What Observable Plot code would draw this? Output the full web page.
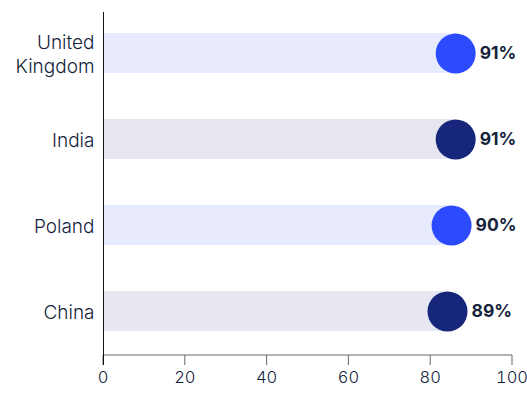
<!DOCTYPE html>
<html>
<head>
<meta charset="utf-8">
<script src="https://cdn.jsdelivr.net/npm/d3@7"></script>
<script src="https://cdn.jsdelivr.net/npm/@observablehq/plot@0.6"></script>
<style>
  html, body { margin: 0; padding: 0; background: #fff; }
  #chart { width: 527px; height: 395px; }
  #chart svg { overflow: visible; }
</style>
</head>
<body>
<div id="chart"></div>
<script>
const countries = ["United Kingdom", "India", "Poland", "China"];
const values = [91, 91, 90, 89];
const labels = ["91%", "91%", "90%", "89%"];
const trackColors = ["#e8ebfd", "#e7e7f1", "#e8ebfd", "#e7e7f1"];
const dotColors = ["#2c4bff", "#16267a", "#2c4bff", "#16267a"];
const xTicks = [0, 20, 40, 60, 80, 100];

const data = countries.map((c, i) => ({
  country: c, value: values[i], label: labels[i], track: trackColors[i], dot: dotColors[i]
}));

const textColor = "#14233c";
const R = 20;

// axis baseline drawn from the x scale
const xAxisLine = (index, scales, values, dims) => {
  const y = dims.height - dims.marginBottom;
  const g = d3.create("svg:line")
    .attr("x1", scales.x(0)).attr("x2", scales.x(100))
    .attr("y1", y).attr("y2", y)
    .attr("stroke", "#666").attr("stroke-width", 1);
  return g.node();
};

const chart = Plot.plot({
  width: 527,
  height: 395,
  marginLeft: 103,
  marginRight: 15,
  marginTop: 8,
  marginBottom: 40,
  style: { fontFamily: "Inter, sans-serif", color: textColor, background: "#fff", overflow: "visible" },
  x: { domain: [0, 100] },
  y: { domain: countries, paddingInner: 0.54, paddingOuter: 0.27 },
  marks: [
    Plot.barX(data, { y: "country", x1: 0, x2: "value", fill: "track", insetRight: R }),
    Plot.dot(data, { y: "country", x: "value", dx: -R, r: R, fill: "dot", stroke: null }),
    Plot.text(data, { y: "country", x: "value", text: "label", dx: 4, textAnchor: "start",
      fontSize: 17.5, fontWeight: "bold", fill: textColor }),
    Plot.axisY({ tickSize: 0, tickPadding: 9, fontSize: 19, fontWeight: 300, fill: textColor,
      tickFormat: d => d === "United Kingdom" ? "United\nKingdom" : d, lineHeight: 1.25, label: null }),
    Plot.axisX({ ticks: xTicks, tickSize: 10, tickPadding: 6, fontSize: 16.5, fontWeight: 300, fill: textColor,
      stroke: "#666", label: null, dx: -0.5 }),
    xAxisLine,
    Plot.ruleX([0], { stroke: "#111", insetTop: 4, insetBottom: -10 })
  ]
});
document.getElementById("chart").appendChild(chart);
</script>
</body>
</html>
